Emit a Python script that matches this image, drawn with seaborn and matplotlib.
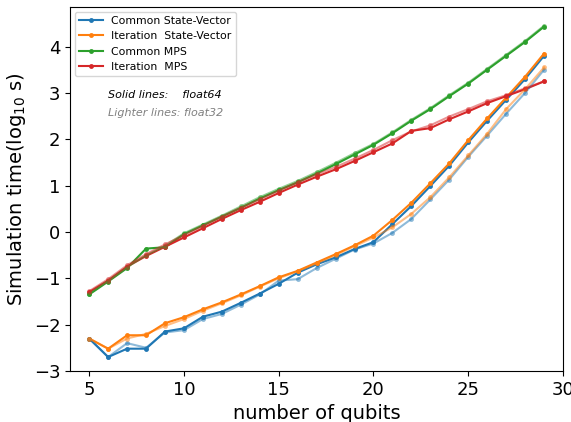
import numpy as np
import pandas as pd
import matplotlib
matplotlib.use('Agg')
import matplotlib.pyplot as plt
import seaborn as sns

qubits = list(range(5, 30))

# log10 of simulation time, float64 runs
common_sv_64 = [-2.3, -2.7, -2.52, -2.52, -2.15, -2.08, -1.83, -1.72, -1.53, -1.33, -1.12, -0.88, -0.70,
                -0.55, -0.37, -0.22, 0.17, 0.56, 0.99, 1.43, 1.93, 2.4, 2.85, 3.3, 3.8]
iter_sv_64 = [-2.3, -2.52, -2.23, -2.23, -1.97, -1.84, -1.67, -1.52, -1.35, -1.17, -0.98, -0.84, -0.66,
              -0.48, -0.29, -0.08, 0.26, 0.63, 1.05, 1.48, 1.98, 2.45, 2.9, 3.35, 3.85]
common_mps_64 = [-1.35, -1.07, -0.78, -0.36, -0.33, -0.05, 0.14, 0.33, 0.52, 0.72, 0.9, 1.07, 1.26,
                 1.46, 1.67, 1.88, 2.13, 2.4, 2.65, 2.93, 3.2, 3.5, 3.8, 4.1, 4.43]
iter_mps_64 = [-1.3, -1.05, -0.75, -0.52, -0.32, -0.12, 0.08, 0.28, 0.47, 0.65, 0.84, 1.02, 1.19,
               1.35, 1.53, 1.72, 1.91, 2.18, 2.24, 2.43, 2.6, 2.78, 2.93, 3.08, 3.25]

# float32 runs (lighter lines)
common_sv_32 = [-2.3, -2.7, -2.4, -2.5, -2.17, -2.12, -1.88, -1.77, -1.57, -1.35, -1.05, -1.02, -0.78,
                -0.58, -0.38, -0.25, -0.02, 0.28, 0.70, 1.13, 1.62, 2.08, 2.55, 3.0, 3.5]
iter_sv_32 = [-2.3, -2.52, -2.3, -2.2, -2.03, -1.88, -1.7, -1.54, -1.37, -1.18, -1.0, -0.85, -0.68,
              -0.5, -0.31, -0.12, 0.1, 0.39, 0.75, 1.18, 1.65, 2.12, 2.65, 3.08, 3.55]
common_mps_32 = [-1.33, -1.05, -0.76, -0.5, -0.3, -0.03, 0.16, 0.35, 0.55, 0.75, 0.93, 1.1, 1.29,
                 1.49, 1.7, 1.9, 2.15, 2.42, 2.67, 2.95, 3.22, 3.52, 3.82, 4.12, 4.45]
iter_mps_32 = [-1.28, -1.02, -0.72, -0.48, -0.27, -0.07, 0.13, 0.33, 0.52, 0.7, 0.89, 1.07, 1.24,
               1.4, 1.58, 1.77, 1.98, 2.17, 2.3, 2.49, 2.65, 2.82, 2.95, 3.1, 3.25]

series = [('Common State-Vector', common_sv_64, common_sv_32, 'tab:blue'),
          ('Iteration  State-Vector', iter_sv_64, iter_sv_32, 'tab:orange'),
          ('Common MPS', common_mps_64, common_mps_32, 'tab:green'),
          ('Iteration  MPS', iter_mps_64, iter_mps_32, 'tab:red')]

fig = plt.figure(figsize=(5.71, 4.22), dpi=100)
ax = fig.add_axes([0.123, 0.121, 0.863, 0.862])

for name, v64, v32, col in series:
    sns.lineplot(x=qubits, y=v64, ax=ax, color=col, marker='o', markersize=3.5,
                 markeredgewidth=0, linewidth=1.5, label=name)
for name, v64, v32, col in series:
    sns.lineplot(x=qubits, y=v32, ax=ax, color=col, marker='o', markersize=3.5,
                 markeredgewidth=0, linewidth=1.5, alpha=0.5)

ax.set_xlim(4, 30)
ax.set_ylim(-3, 4.85)
ax.set_xticks([5, 10, 15, 20, 25, 30])
ax.tick_params(labelsize=13)
ax.set_xlabel('number of qubits', fontsize=14)
ax.set_ylabel('Simulation time(log$_{10}$ s)', fontsize=14)
ax.legend(loc='upper left', fontsize=7.8, handlelength=2.2, borderaxespad=0.4)

ax.text(0.077, 0.758, 'Solid lines:    float64', transform=ax.transAxes, fontsize=8,
        style='italic', color='black', va='center')
ax.text(0.077, 0.709, 'Lighter lines: float32', transform=ax.transAxes, fontsize=8,
        style='italic', color='gray', va='center')

fig.savefig('out.png', dpi=100)
